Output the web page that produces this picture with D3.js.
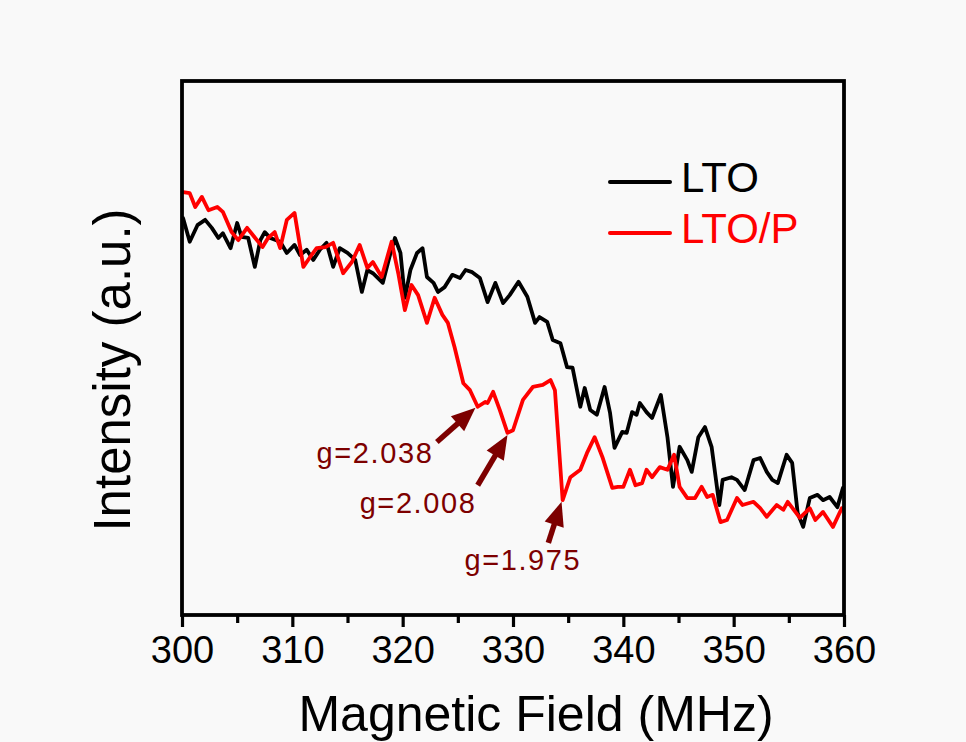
<!DOCTYPE html>
<html>
<head>
<meta charset="utf-8">
<script src="https://cdn.jsdelivr.net/npm/d3@7"></script>
<style>
  html, body { margin: 0; padding: 0; background: #f9f9f9; }
  svg { display: block; }
  text { font-family: "Liberation Sans", Arial, sans-serif; }
</style>
</head>
<body>
<svg id="chart" width="966" height="742"></svg>
<script>
// ---------------- data ----------------
const ltoField = [300.1,300.7,301.4,302.1,302.7,303.3,303.7,304.4,305.0,305.4,
  306.0,306.6,307.1,307.5,308.0,308.9,309.5,310.2,310.7,311.3,
  311.9,312.5,313.1,313.7,314.3,315.0,315.7,316.3,316.8,317.3,
  318.2,318.9,319.3,319.8,320.2,320.7,321.3,321.8,322.2,322.8,
  323.2,323.8,324.5,325.2,325.7,326.3,327.0,327.7,328.4,329.1,
  329.7,330.5,331.3,332.0,332.4,333.1,333.6,334.3,334.9,335.4,
  336.1,336.5,337.0,337.6,338.3,338.8,339.2,339.9,340.3,340.8,
  341.2,341.5,342.1,342.6,343.4,344.0,344.5,345.1,345.8,346.2,
  346.8,347.4,348.0,348.7,349.0,349.8,350.3,351.0,351.8,352.4,
  353.0,353.5,354.0,354.8,355.3,355.8,356.3,356.9,357.6,358.1,
  358.7,359.4,359.9];
const ltoIntensity = [74.3,69.9,73.0,74.0,72.5,70.6,71.5,68.7,73.4,70.8,
  70.6,65.2,70.2,71.7,70.6,69.9,67.8,69.3,67.4,68.4,
  66.5,68.4,69.7,65.2,68.7,67.8,66.5,60.5,64.6,64.0,
  62.2,67.8,70.6,67.8,59.4,64.6,67.8,68.7,63.3,62.2,
  60.5,61.4,63.7,63.1,64.6,64.2,63.1,58.6,62.2,58.4,
  59.9,62.4,59.6,54.7,55.8,54.9,51.5,50.9,46.4,46.3,
  39.0,42.5,38.4,37.5,42.7,37.8,31.3,34.3,34.1,38.0,
  37.5,39.7,38.0,36.9,41.2,33.3,24.0,31.5,29.0,26.8,
  33.3,35.2,31.5,20.6,25.3,25.8,25.3,23.4,29.0,29.4,
  26.8,25.3,24.7,30.0,28.5,19.1,16.5,21.9,22.5,21.5,
  22.1,20.2,23.8];

const ltopField = [300.1,300.7,301.2,301.8,302.4,303.2,303.7,304.5,305.1,305.9,
  306.4,307.3,307.8,308.4,308.9,309.5,310.2,311.0,311.6,312.2,
  313.0,313.7,314.6,315.4,316.1,316.8,317.3,318.1,319.0,319.6,
  320.2,320.8,321.4,322.2,322.9,323.6,324.1,324.7,325.5,326.1,
  326.8,327.5,327.7,328.2,328.8,329.5,330.0,330.9,331.8,332.7,
  333.4,333.8,334.1,334.5,335.2,336.1,336.7,337.4,338.1,339.0,
  339.5,340.0,340.6,341.1,341.7,342.1,342.6,343.3,344.0,344.6,
  345.1,345.8,346.5,347.1,347.6,348.1,348.8,349.4,350.3,350.8,
  351.8,352.4,353.0,353.9,354.5,354.9,356.0,356.9,357.4,358.1,
  359.0,359.8];
const ltopIntensity = [79.2,79.0,76.4,78.3,75.8,76.4,75.5,71.7,70.2,72.5,
  71.2,68.9,70.6,71.7,68.7,74.0,75.3,65.2,67.0,68.7,
  68.9,69.7,64.0,66.1,69.3,65.0,66.1,63.3,69.9,64.0,
  57.1,61.8,59.9,54.7,59.4,56.2,54.7,50.2,43.4,42.1,
  39.0,39.9,39.7,41.8,38.4,34.1,34.6,40.3,42.7,43.1,
  44.0,42.1,33.3,21.5,25.8,27.2,30.3,33.3,29.6,23.8,
  24.0,24.0,27.2,24.3,24.7,27.2,25.8,27.7,27.2,30.0,
  24.0,21.9,21.9,24.0,22.1,22.5,17.4,17.8,21.9,20.6,
  21.2,20.0,18.4,20.6,19.7,21.2,18.2,20.0,17.8,19.3,
  16.5,20.0];

const seriesNames = ["LTO", "LTO/P"];
const xMajorTicks = [300, 310, 320, 330, 340, 350, 360];
const xMinorTicks = [305, 315, 325, 335, 345, 355];
const xLabel = "Magnetic Field (MHz)";
const yLabel = "Intensity (a.u.)";

// annotation labels, arrow tip and tail in data units, label anchor in data units
const annLabels = ["g=2.038", "g=2.008", "g=1.975"];
const annTipField = [326.6, 329.5, 334.4];
const annTipIntensity = [38.8, 33.7, 21.2];
const annTailField = [323.1, 326.8, 333.2];
const annTailIntensity = [32.4, 24.3, 13.5];
const annTextField = [312.2, 316.1, 325.6];
const annTextIntensity = [28.5, 19.1, 8.4];

// ---------------- layout ----------------
const svg = d3.select("#chart");
const W = 966, H = 742;
const plot = { left: 182, right: 844, top: 81, bottom: 615 };

svg.append("rect").attr("width", W).attr("height", H).attr("fill", "#f9f9f9");

const x = d3.scaleLinear().domain([300, 360]).range([plot.left, plot.right]);
const y = d3.scaleLinear().domain([0, 100]).range([plot.bottom, plot.top]);

const colors = ["#000000", "#ff0000"];
const annColor = "#7d0000";

svg.append("clipPath").attr("id", "clip")
  .append("rect").attr("x", plot.left).attr("y", plot.top)
  .attr("width", plot.right - plot.left).attr("height", plot.bottom - plot.top);

const lto = ltoField.map((f, i) => [f, ltoIntensity[i]]);
const ltop = ltopField.map((f, i) => [f, ltopIntensity[i]]);

const line = d3.line().x(d => x(d[0])).y(d => y(d[1])).curve(d3.curveLinear);

const g = svg.append("g").attr("clip-path", "url(#clip)");
g.append("path").datum(lto).attr("d", line)
  .attr("fill", "none").attr("stroke", colors[0]).attr("stroke-width", 3.8)
  .attr("stroke-linejoin", "round").attr("stroke-linecap", "round");
g.append("path").datum(ltop).attr("d", line)
  .attr("fill", "none").attr("stroke", colors[1]).attr("stroke-width", 3.8)
  .attr("stroke-linejoin", "round").attr("stroke-linecap", "round");

// axes
const xAxisMajor = d3.axisBottom(x).tickValues(xMajorTicks).tickSize(12).tickPadding(9)
  .tickFormat(d3.format("d"));
const gx = svg.append("g").attr("transform", `translate(0,${plot.bottom})`).call(xAxisMajor);
gx.select(".domain").remove();
gx.selectAll(".tick line").attr("stroke", "#000").attr("stroke-width", 3.2);
gx.selectAll(".tick text").attr("font-size", 38).attr("fill", "#000")
  .attr("font-family", "'Liberation Sans', Arial, sans-serif");

const xAxisMinor = d3.axisBottom(x).tickValues(xMinorTicks).tickSize(8).tickFormat("");
const gxm = svg.append("g").attr("transform", `translate(0,${plot.bottom})`).call(xAxisMinor);
gxm.select(".domain").remove();
gxm.selectAll(".tick line").attr("stroke", "#000").attr("stroke-width", 3.2);

// frame
svg.append("rect")
  .attr("x", plot.left).attr("y", plot.top)
  .attr("width", plot.right - plot.left).attr("height", plot.bottom - plot.top)
  .attr("fill", "none").attr("stroke", "#000").attr("stroke-width", 3.8);

// axis titles
svg.append("text")
  .attr("x", 536).attr("y", 731)
  .attr("text-anchor", "middle").attr("font-size", 50).attr("fill", "#000")
  .text(xLabel);

svg.append("text")
  .attr("transform", "translate(130,370) rotate(-90)")
  .attr("text-anchor", "middle").attr("font-size", 51).attr("fill", "#000")
  .text(yLabel);

// legend
const legend = svg.append("g");
seriesNames.forEach((name, i) => {
  const ly = 182 + i * 51;
  legend.append("line")
    .attr("x1", 610).attr("x2", 670).attr("y1", ly).attr("y2", ly)
    .attr("stroke", colors[i]).attr("stroke-width", 4).attr("stroke-linecap", "round");
  legend.append("text")
    .attr("x", 681).attr("y", ly + 10)
    .attr("font-size", 42).attr("fill", colors[i])
    .text(name);
});

// annotations
const ann = svg.append("g");
annLabels.forEach((lab, i) => {
  const tx = x(annTipField[i]), ty = y(annTipIntensity[i]);
  const sx = x(annTailField[i]), sy = y(annTailIntensity[i]);
  const dx = tx - sx, dy = ty - sy, len = Math.hypot(dx, dy);
  const ux = dx / len, uy = dy / len;
  const headLen = 24, headW = 10;
  const bx = tx - ux * headLen, by = ty - uy * headLen;
  ann.append("line")
    .attr("x1", sx).attr("y1", sy).attr("x2", bx + ux * 2).attr("y2", by + uy * 2)
    .attr("stroke", annColor).attr("stroke-width", 5.5);
  ann.append("path")
    .attr("d", `M${tx},${ty} L${bx - uy * headW},${by + ux * headW} L${bx + uy * headW},${by - ux * headW} Z`)
    .attr("fill", annColor);
  ann.append("text")
    .attr("x", x(annTextField[i])).attr("y", y(annTextIntensity[i]))
    .attr("font-size", 29).attr("letter-spacing", 1.6).attr("fill", annColor)
    .text(lab);
});
</script>
</body>
</html>
